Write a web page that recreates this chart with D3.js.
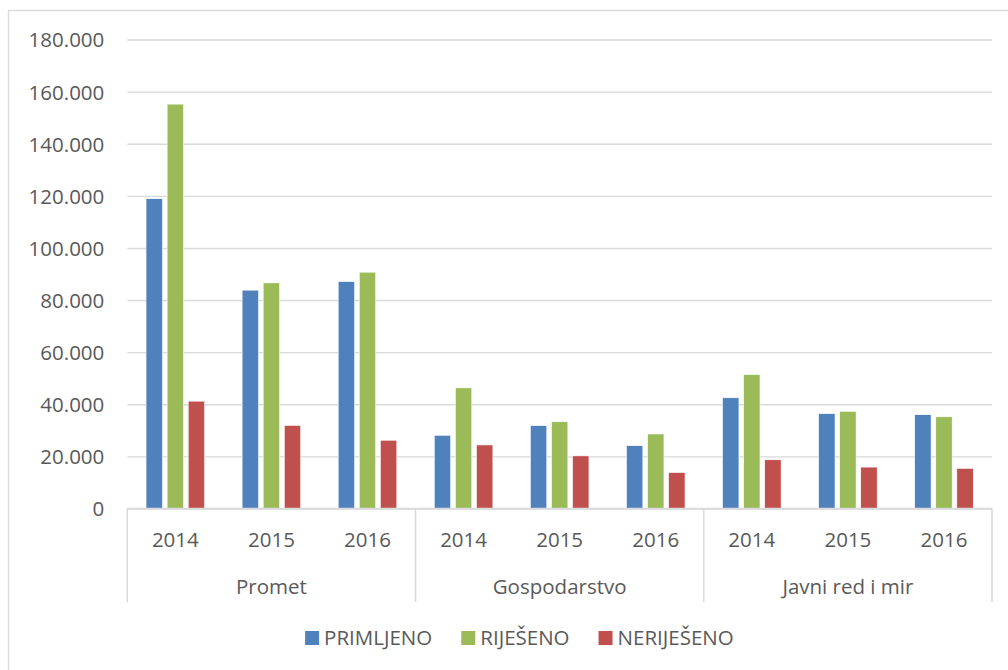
<!DOCTYPE html>
<html>
<head>
<meta charset="utf-8">
<script src="https://cdn.jsdelivr.net/npm/d3@7"></script>
<style>
  html, body { margin: 0; padding: 0; background: #fff; }
  svg text { font-family: "Open Sans", sans-serif; fill: #595959; }
</style>
</head>
<body>
<svg id="chart" width="1008" height="670"></svg>
<script>
// chart values
const groups = ["Promet", "Gospodarstvo", "Javni red i mir"];
const years = ["2014", "2015", "2016"];
const series = ["PRIMLJENO", "RIJEŠENO", "NERIJEŠENO"];
const colors = ["#4f81bd", "#9bbb59", "#c0504d"];
const primljeno  = [118900, 83800, 87100, 28100, 31800, 24100, 42500, 36400, 36000];
const rijeseno   = [155200, 86600, 90700, 46300, 33300, 28600, 51400, 37300, 35200];
const nerijeseno = [41200, 31900, 26200, 24400, 20200, 13800, 18700, 15900, 15400];
const yTicks = [0, 20000, 40000, 60000, 80000, 100000, 120000, 140000, 160000, 180000];

const values = [primljeno, rijeseno, nerijeseno];
const data = [];
groups.forEach((g, gi) => years.forEach((yr, yi) => series.forEach((s, si) => {
  data.push({ group: g, year: yr, series: s, value: values[si][gi * years.length + yi] });
})));

const svg = d3.select("#chart");
const plotLeft = 127.3, plotRight = 992, plotTop = 39.5, plotBottom = 508.5;
const grey = "#d9d9d9";

// outer border
svg.append("rect")
  .attr("x", 8.5).attr("y", 10.5)
  .attr("width", 1010).attr("height", 670)
  .attr("fill", "none").attr("stroke", grey).attr("stroke-width", 1.3);

const y = d3.scaleLinear().domain([0, 180000]).range([plotBottom, plotTop]);
const fmt = d3.formatLocale({ decimal: ",", thousands: ".", grouping: [3], currency: ["", ""] }).format(",.0f");

// y axis + gridlines
const yAxis = svg.append("g")
  .attr("transform", "translate(" + plotLeft + ",0)")
  .call(d3.axisLeft(y).tickValues(yTicks).tickSize(-(plotRight - plotLeft)).tickPadding(23).tickFormat(fmt));
yAxis.select(".domain").remove();
yAxis.selectAll("line").attr("stroke", grey).attr("stroke-width", 1.4);
yAxis.selectAll("text")
  .attr("font-size", "20.5px")
  .attr("dy", "0.36em")
  .style("font-family", "'Open Sans', sans-serif")
  .attr("fill", "#595959");

// nested band scales
const x0 = d3.scaleBand().domain(groups).range([plotLeft, plotRight]);
const x1 = d3.scaleBand().domain(years).range([0, x0.bandwidth()]);
const bw = x1.bandwidth();
const x2 = d3.scaleBand().domain(series).range([bw * 0.195, bw * 0.805]).paddingInner(0.22);

// bars
svg.append("g").selectAll("rect")
  .data(data)
  .enter()
  .append("rect")
  .attr("x", d => x0(d.group) + x1(d.year) + x2(d.series))
  .attr("y", d => y(d.value))
  .attr("width", x2.bandwidth())
  .attr("height", d => plotBottom - y(d.value))
  .attr("fill", d => colors[series.indexOf(d.series)])
  .attr("stroke", "#fff")
  .attr("stroke-width", 0.6);

// category axis line
svg.append("line")
  .attr("x1", plotLeft).attr("x2", plotRight)
  .attr("y1", plotBottom).attr("y2", plotBottom)
  .attr("stroke", grey).attr("stroke-width", 1.5);

// group separators
const seps = groups.map(g => x0(g)).concat([plotRight]);
svg.append("g").selectAll("line")
  .data(seps)
  .enter()
  .append("line")
  .attr("x1", d => d).attr("x2", d => d)
  .attr("y1", plotBottom).attr("y2", 602)
  .attr("stroke", grey).attr("stroke-width", 1.5);

// year labels
svg.append("g").selectAll("text")
  .data(groups.flatMap(g => years.map(yr => ({ g, yr }))))
  .enter()
  .append("text")
  .attr("x", d => x0(d.g) + x1(d.yr) + bw / 2)
  .attr("y", 547)
  .attr("text-anchor", "middle")
  .attr("font-size", "20.5px")
  .text(d => d.yr);

// group labels
svg.append("g").selectAll("text")
  .data(groups)
  .enter()
  .append("text")
  .attr("x", d => x0(d) + x0.bandwidth() / 2)
  .attr("y", 594)
  .attr("text-anchor", "middle")
  .attr("font-size", "20.5px")
  .text(d => d);

// legend
const legend = svg.append("g");
let lx = 0;
series.forEach((s, i) => {
  const item = legend.append("g").attr("transform", "translate(" + lx + ",0)");
  item.append("rect").attr("x", 0).attr("y", 631).attr("width", 14).attr("height", 14).attr("fill", colors[i]);
  const t = item.append("text").attr("x", 19).attr("y", 645).attr("font-size", "20.5px").text(s);
  lx += 19 + t.node().getComputedTextLength() + 29;
});
const legendW = lx - 29;
legend.attr("transform", "translate(" + (519.4 - legendW / 2) + ",0)");
</script>
</body>
</html>
